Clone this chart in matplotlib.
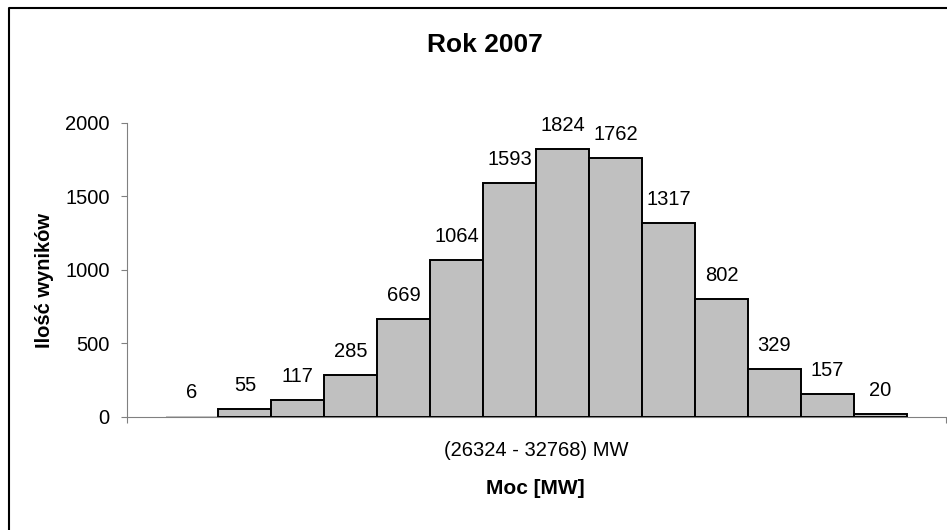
import numpy as np
import matplotlib
matplotlib.use("Agg")
import matplotlib.pyplot as plt
from matplotlib.lines import Line2D

plt.rcParams['font.family'] = ['Liberation Sans', 'DejaVu Sans']

# data
counts = [6, 55, 117, 285, 669, 1064, 1593, 1824, 1762, 1317, 802, 329, 157, 20]
category_label = '(26324 - 32768) MW'
title = 'Rok 2007'
y_label = 'Ilość wyników'
x_label = 'Moc [MW]'
y_ticks = [0, 500, 1000, 1500, 2000]

W, H = 947, 530
fig = plt.figure(figsize=(W / 100, H / 100), dpi=100)
ax = fig.add_axes([126.7 / W, 1 - 417 / H, 819 / W, 294.3 / H])

x = np.arange(len(counts))
# bars thinner than a pixel get no outline (as in the original, where they vanish)
edges = ['none' if v < 10 else 'black' for v in counts]
ax.bar(x, counts, width=1.0, color='#c0c0c0', edgecolor=edges, linewidth=1.4, zorder=3)

# data labels above each bar
for xi, v in zip(x, counts):
    ax.annotate(str(v), (xi, v), xytext=(0, 13), textcoords='offset points',
                ha='center', va='baseline', fontsize=14.5)

x_lo, x_hi = -1.233, len(counts) - 0.5 + 0.737
ax.set_xlim(x_lo, x_hi)
ax.set_ylim(0, 2000)

ax.set_yticks(y_ticks)
ax.tick_params(axis='y', direction='out', length=4.3, width=0.8, color='#808080',
               pad=8, labelsize=14.5)

# category boundaries as ticks, category name in the middle
ax.set_xticks([x_lo, x_hi], ['', ''])
ax.tick_params(axis='x', which='major', direction='out', length=4.3, width=0.8, color='#808080')
ax.set_xticks([(x_lo + x_hi) / 2], [category_label], minor=True)
ax.tick_params(axis='x', which='minor', length=0, pad=17, labelsize=14.5)

for s in ['top', 'right']:
    ax.spines[s].set_visible(False)
for s in ['left', 'bottom']:
    ax.spines[s].set_color('#808080')
    ax.spines[s].set_linewidth(0.8)

fig.text(485 / W, 1 - 45.5 / H, title, ha='center', va='center', fontsize=19, fontweight='bold')
fig.text(44 / W, 1 - 281 / H, y_label, ha='center', va='center', rotation=90,
         fontsize=14.5, fontweight='bold')
fig.text(535.5 / W, 1 - 489 / H, x_label, ha='center', va='center', fontsize=15, fontweight='bold')

# outer chart frame (only left and top edges are inside the picture)
fig.add_artist(Line2D([9.3 / W, 9.3 / W, 1.01], [-0.01, 1 - 8.3 / H, 1 - 8.3 / H],
                      transform=fig.transFigure, color='black', linewidth=1.5))

fig.savefig('out.png', dpi=100)
